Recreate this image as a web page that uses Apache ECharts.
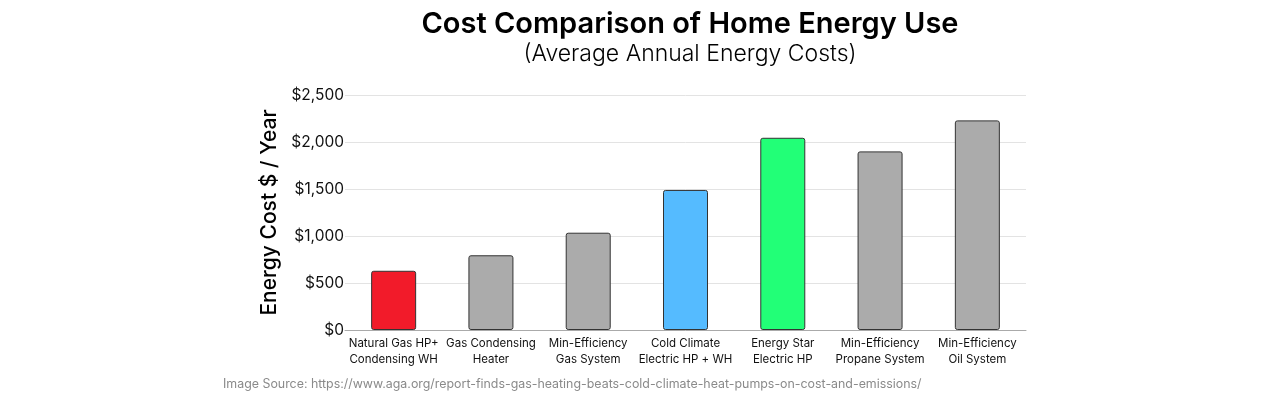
<!DOCTYPE html>
<html><head><meta charset="utf-8">
<script src="https://cdn.jsdelivr.net/npm/echarts@6/dist/echarts.min.js"></script>
<style>html,body{margin:0;padding:0;background:#fff}#c{width:1284px;height:404px}</style>
</head><body><div id="c"></div>
<script>
const categories = ["Natural Gas HP+\nCondensing WH","Gas Condensing\nHeater","Min-Efficiency\nGas System","Cold Climate\nElectric HP + WH","Energy Star\nElectric HP","Min-Efficiency\nPropane System","Min-Efficiency\nOil System"];
const costs = [630, 795, 1035, 1490, 2045, 1900, 2230];
const barColors = ["#F21B2A","#ABABAB","#ABABAB","#55BBFF","#22FF77","#ABABAB","#ABABAB"];
const yTicks = [0, 500, 1000, 1500, 2000, 2500];
const font = "Inter, 'Noto Sans', sans-serif";
const chart = echarts.init(document.getElementById('c'));
chart.setOption({
  animation:false,
  textStyle:{fontFamily:font},
  title:[
    {text:"Cost Comparison of Home Energy Use", left:685, top:5, textAlign:'center',
     textStyle:{fontFamily:font, fontSize:29, fontWeight:600, color:'#000'}},
    {text:"(Average Annual Energy Costs)", left:685, top:38, textAlign:'center',
     textStyle:{fontFamily:font, fontSize:23, fontWeight:300, color:'#000'}},
    {text:"Image Source: https://www.aga.org/report-finds-gas-heating-beats-cold-climate-heat-pumps-on-cost-and-emissions/",
     left:218, top:373, textStyle:{fontFamily:font, fontSize:12.4, fontWeight:400, color:'#8a8a8a'}}
  ],
  grid:{left:345, right:258, top:95, bottom:74, containLabel:false},
  xAxis:{type:'category', data:categories,
    axisLine:{lineStyle:{color:'#aaa'}}, axisTick:{show:false},
    axisLabel:{fontFamily:font, fontSize:11.5, color:'#111', lineHeight:16, margin:6, interval:0}},
  yAxis:{type:'value', min:yTicks[0], max:yTicks[yTicks.length-1], interval:500,
    name:"Energy Cost $ / Year", nameLocation:'middle', nameGap:41, nameRotate:90,
    nameTextStyle:{fontFamily:font, fontSize:21, fontWeight:500, color:'#000'},
    axisLine:{show:false}, axisTick:{show:false},
    splitLine:{lineStyle:{color:'#e3e3e3'}},
    axisLabel:{fontFamily:font, fontSize:15.5, color:'#111', margin:1,
      formatter:v=>'$'+v.toLocaleString('en-US')}},
  series:[{type:'bar', barWidth:45,
    data:costs.map((v,i)=>({value:v, itemStyle:{color:barColors[i]}})),
    itemStyle:{borderColor:'#333', borderWidth:1, borderRadius:2}}]
});
</script></body></html>
